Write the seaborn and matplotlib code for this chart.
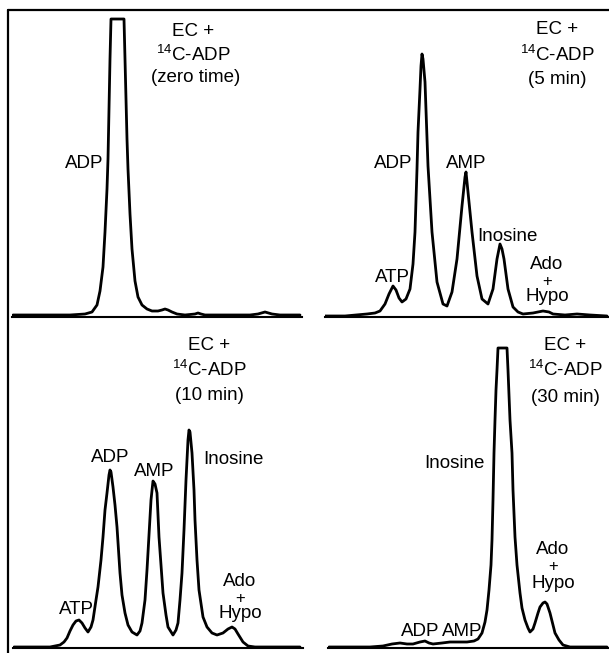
import matplotlib
matplotlib.use("Agg")
import matplotlib.pyplot as plt
from matplotlib.lines import Line2D
import numpy as np
import pandas as pd
import seaborn as sns

sns.set_theme(style="white")
plt.rcParams['font.family'] = ['Liberation Sans', 'DejaVu Sans']
plt.rcParams['mathtext.fontset'] = 'custom'
plt.rcParams['mathtext.rm'] = 'Liberation Sans'

# ---- data: elution position (arbitrary units) vs radioactivity (arbitrary units) ----
zero_x = [1, 28, 58, 73, 80, 85, 88, 91, 93, 95, 96, 97, 98, 99, 112, 113, 114, 115, 116, 118,
          120, 123, 126, 130, 135, 140, 146, 150, 153, 156, 160, 165, 173, 183, 186, 189, 193,
          218, 238, 246, 253, 260, 268, 288]
zero_y = [2, 2, 2, 3, 5, 12, 26, 50, 85, 128, 158, 208, 258, 298, 298, 258, 218, 178, 148, 103,
          68, 36, 20, 12, 8, 6, 6, 7, 8, 7, 5, 3, 2, 3, 4, 3, 2,
          2, 2, 3, 5, 3, 2, 2]

min5_x = [0, 20, 42, 50, 55, 60, 64, 68, 71, 74, 77, 81, 85, 88, 90, 92, 93, 95, 96, 97, 98,
          100, 103, 107, 112, 118, 122, 127, 132, 137, 140, 141, 143, 147, 152, 157, 163, 168,
          172, 175, 177, 179, 183, 188, 193, 198, 208, 218, 224, 228, 240, 252, 265, 282]
min5_y = [1, 1, 3, 4, 6, 13, 23, 31, 27, 19, 15, 18, 28, 53, 85, 148, 185, 228, 251, 263, 258,
          235, 151, 85, 35, 13, 11, 25, 58, 111, 140, 145, 125, 85, 41, 18, 13, 28,
          58, 73, 68, 58, 28, 10, 5, 3, 4, 6, 5, 3, 2, 3, 2, 1]

min10_x = [1, 37, 47, 51, 54, 57, 60, 63, 66, 69, 72, 75, 78, 80, 83, 85, 88, 90, 92, 94, 96,
           97, 98, 100, 102, 104, 107, 109, 112, 115, 119, 124, 127, 129, 132, 134, 136, 138,
           140, 142, 144, 146, 148, 150, 153, 155, 160, 163, 165, 167, 169, 171, 173, 175, 176,
           177, 179, 181, 182, 184, 186, 190, 194, 199, 204, 210, 215, 219, 222, 225, 230, 235,
           242, 287]
min10_y = [1, 1, 3, 6, 10, 17, 23, 27, 28, 25, 20, 16, 21, 28, 48, 61, 88, 111, 138, 155, 173,
           178, 176, 161, 143, 121, 75, 53, 35, 23, 16, 13, 17, 25, 48, 78, 113, 148,
           167, 164, 155, 111, 83, 55, 33, 21, 13, 18, 25, 48, 75, 118, 168, 208, 218,
           216, 195, 158, 128, 88, 58, 31, 21, 15, 13, 15, 19, 21, 19, 14, 6, 2,
           1, 1]

min30_x = [1, 42, 55, 64, 72, 79, 85, 92, 97, 101, 105, 114, 122, 132, 139, 146, 150, 154, 157,
           159, 161, 163, 164, 165, 166, 167, 168, 169, 170, 179, 180, 181, 182, 184, 185, 187,
           189, 192, 194, 197, 200, 202, 205, 207, 210, 212, 215, 217, 219, 222, 225, 227, 231,
           235, 242, 279]
min30_y = [1, 1, 2, 4, 5, 4, 4, 6, 7, 5, 4, 5, 6, 6, 6, 7, 9, 15, 26,
           38, 58, 83, 108, 148, 195, 228, 258, 278, 300, 300, 278, 253, 228, 195, 158, 111,
           83, 55, 40, 28, 20, 16, 19, 25, 35, 41, 45, 46, 44, 35, 23, 15, 8,
           3, 1, 1]

W, H = 609, 653
fig = plt.figure(figsize=(W / 100, H / 100), dpi=100)

# panel geometry in pixels: left, right, baseline, top
panels = [
    (zero_x, zero_y, (12, 302, 317, 10)),
    (min5_x, min5_y, (325, 609, 317, 10)),
    (min10_x, min10_y, (13, 303, 648, 330)),
    (min30_x, min30_y, (328, 609, 648, 330)),
]

for xs, ys, (l, r, b, t) in panels:
    ax = fig.add_axes([l / W, 1 - b / H, (r - l) / W, (b - t) / H])
    df = pd.DataFrame({"x": xs, "y": ys})
    sns.lineplot(data=df, x="x", y="y", ax=ax, color="black", lw=2.0,
                 sort=False, estimator=None,
                 solid_joinstyle="round", solid_capstyle="round")
    ax.set_xlim(0, r - l)
    ax.set_ylim(0, b - t)
    for s in ["top", "right", "left"]:
        ax.spines[s].set_visible(False)
    ax.spines["bottom"].set_color("black")
    ax.spines["bottom"].set_linewidth(1.5)
    ax.set_xticks([])
    ax.set_yticks([])
    ax.set_xlabel("")
    ax.set_ylabel("")
    ax.patch.set_alpha(0)

# frame lines
fig.add_artist(Line2D([8 / W, 8 / W], [0, 1 - 10 / H], color="black", lw=1.6))
fig.add_artist(Line2D([8 / W, 1], [1 - 10 / H, 1 - 10 / H], color="black", lw=1.6))

labels = [
    ("EC +", 193, 31), (r"$\mathregular{^{14}}$C-ADP", 193, 55), ("(zero time)", 196, 78),
    ("ADP", 84, 163),
    ("EC +", 557, 30), (r"$\mathregular{^{14}}$C-ADP", 557, 55), ("(5 min)", 557, 80),
    ("ADP", 393, 163), ("AMP", 466, 163), ("Inosine", 507, 237), ("ATP", 392, 277),
    ("Ado", 547, 265), ("+", 547, 282), ("Hypo", 547, 297),
    ("EC +", 209, 345), (r"$\mathregular{^{14}}$C-ADP", 209, 370), ("(10 min)", 209, 396),
    ("ADP", 110, 457), ("AMP", 154, 471), ("Inosine", 233, 460), ("ATP", 76, 610),
    ("Ado", 240, 582), ("+", 240, 598), ("Hypo", 240, 613),
    ("EC +", 565, 345), (r"$\mathregular{^{14}}$C-ADP", 565, 370), ("(30 min)", 565, 397),
    ("Inosine", 454, 463), ("Ado", 553, 550), ("+", 553, 567), ("Hypo", 553, 583),
    ("ADP", 420, 632), ("AMP", 462, 632),
]
for txt, px, py in labels:
    fs = 12 if txt == "+" else 13.5
    fig.text(px / W, 1 - py / H, txt, ha="center", va="center", fontsize=fs, color="black")

fig.savefig("out.png", dpi=100)
